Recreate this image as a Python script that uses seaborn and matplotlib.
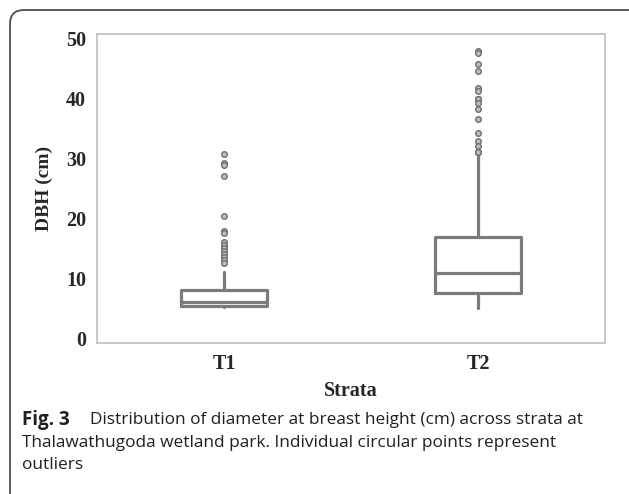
import numpy as np
import pandas as pd
import matplotlib
matplotlib.use("Agg")
import matplotlib.pyplot as plt
import seaborn as sns
from matplotlib.patches import FancyBboxPatch

# Datos (DBH en cm)
strata = ["T1", "T2"]
whisker_low = [5.3, 5.1]
q1 = [5.5, 7.7]
median = [6.2, 11.0]
q3 = [8.1, 17.05]
whisker_high = [11.2, 31.0]
outliers_t1 = [30.8, 29.4, 29.0, 27.2, 20.5, 18.0, 17.6, 16.1, 15.6, 15.2,
               14.7, 14.2, 13.7, 13.2, 12.7]
outliers_t2 = [48.0, 47.6, 45.9, 44.7, 41.8, 41.4, 40.0, 40.0, 40.0, 39.3,
               38.3, 36.7, 34.4, 33.0, 32.1, 31.1, 31.1, 31.1]
yticks = [0, 10, 20, 30, 40, 50]

sns.set_style("white")
plt.rcParams['font.family'] = ['Liberation Serif', 'DejaVu Serif']

fig = plt.figure(figsize=(6.29, 4.94), dpi=100)
ax = fig.add_axes([0.1542, 0.3057, 0.8076, 0.6255])

# estadisticas para cada caja
stats = []
fliers = [outliers_t1, outliers_t2]
for i, s in enumerate(strata):
    stats.append({'label': s, 'whislo': whisker_low[i], 'q1': q1[i],
                  'med': median[i], 'q3': q3[i], 'whishi': whisker_high[i],
                  'fliers': fliers[i]})

gris = '#7b7b7b'
ax.bxp(stats, positions=[0, 1], widths=0.34, showcaps=False,
       boxprops=dict(color=gris, linewidth=2.3),
       medianprops=dict(color=gris, linewidth=2.3),
       whiskerprops=dict(color=gris, linewidth=2.3),
       flierprops=dict(marker='o', markersize=4.0, markerfacecolor='#bdbdbd',
                       markeredgecolor='#6f6f6f', markeredgewidth=1.0))

ax.set_xlim(-0.5, 1.5)
ax.set_ylim(-0.67, 50.83)
ax.set_yticks(yticks)
ax.set_xticks([0, 1])
ax.set_xticklabels(strata)
for sp in ax.spines.values():
    sp.set_color('#c4c4c4')
    sp.set_linewidth(1.3)
ax.tick_params(axis='both', direction='out', length=4, width=1, color='#c4c4c4',
               labelsize=14.5, pad=4)
for lab in ax.get_xticklabels() + ax.get_yticklabels():
    lab.set_fontweight('bold')
ax.set_ylabel("DBH (cm)", fontsize=14, fontweight='bold', labelpad=9)
ax.set_xlabel("Strata", fontsize=14.5, fontweight='bold', labelpad=5)

# marco redondeado de la figura
marco = FancyBboxPatch((10, -30), 640, 514, boxstyle="round,pad=0,rounding_size=14",
                       transform=None, fill=False, edgecolor='#4d4d4d', linewidth=1.3,
                       clip_on=False)
fig.add_artist(marco)

# leyenda de la figura
cap = ['Open Sans', 'DejaVu Sans']
fig.text(22 / 629, 1 - 420 / 494, "Fig. 3", family=cap, fontweight='bold',
         fontsize=13.5, color='#231f20', va='center')
fig.text(90 / 629, 1 - 420 / 494,
         "Distribution of diameter at breast height (cm) across strata at",
         family=cap, fontsize=12.4, color='#231f20', va='center')
fig.text(22 / 629, 1 - 443 / 494,
         "Thalawathugoda wetland park. Individual circular points represent",
         family=cap, fontsize=12.4, color='#231f20', va='center')
fig.text(22 / 629, 1 - 465 / 494, "outliers",
         family=cap, fontsize=12.4, color='#231f20', va='center')

fig.savefig("out.png", dpi=100)
